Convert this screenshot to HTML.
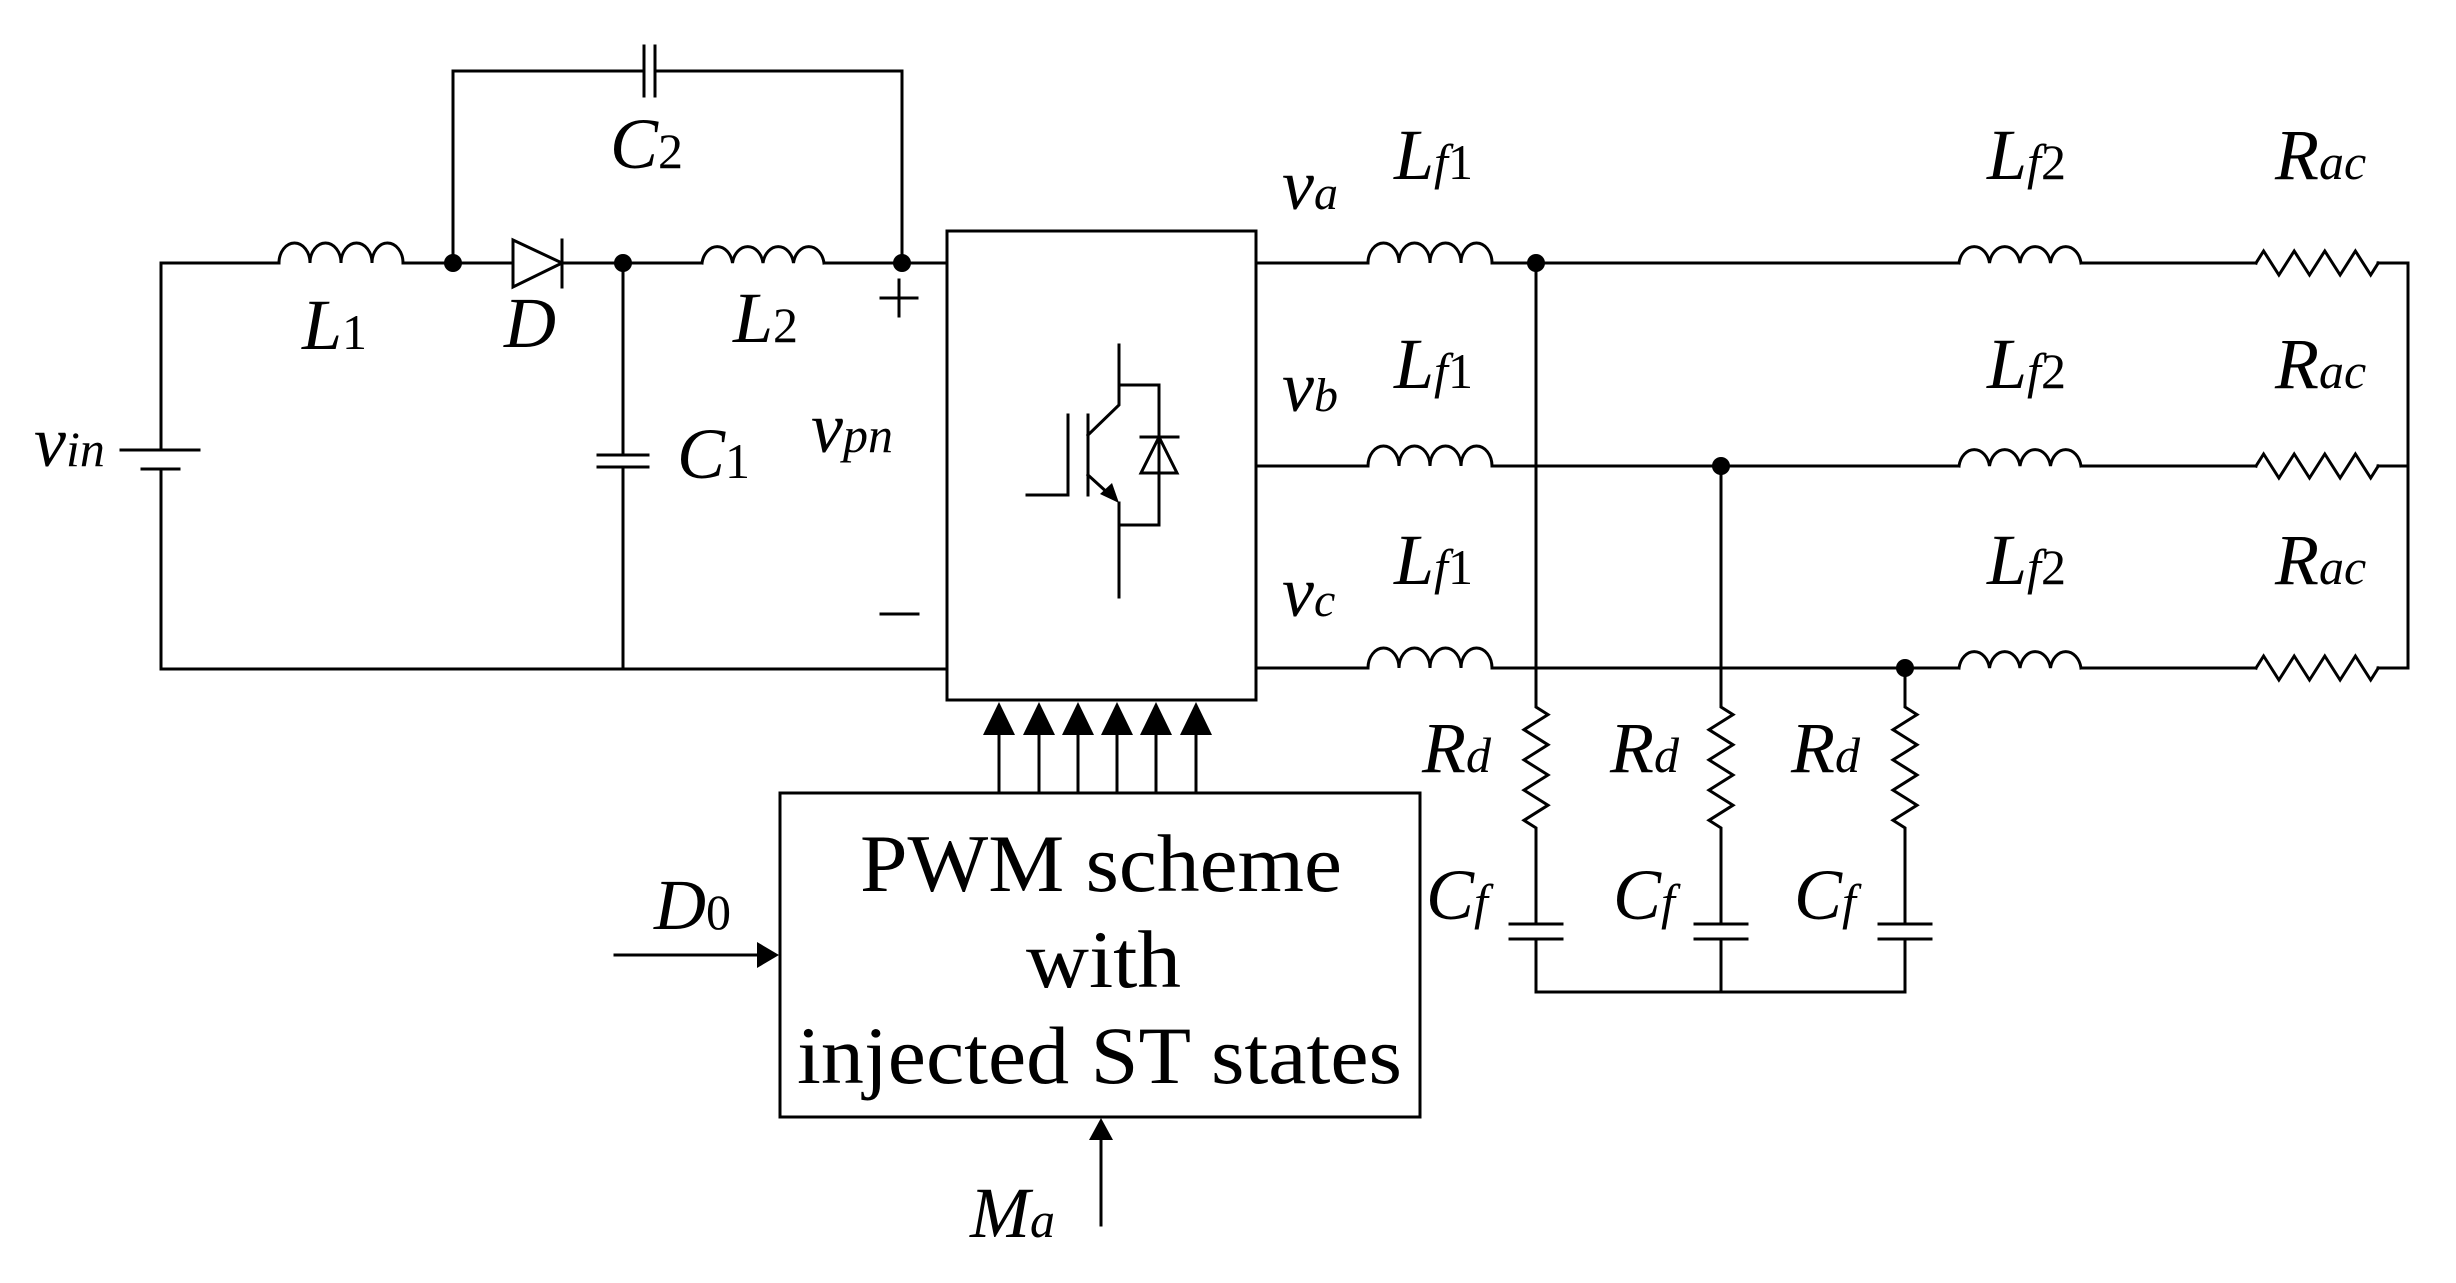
<!DOCTYPE html>
<html><head><meta charset="utf-8"><style>
html,body{margin:0;padding:0;background:#fff;}
svg{display:block;}
text{font-family:"Liberation Serif",serif;fill:#000;}
.i{font-style:italic;}
</style></head><body>
<svg width="2456" height="1283" viewBox="0 0 2456 1283" xmlns="http://www.w3.org/2000/svg">
<g fill="none" stroke="#000" stroke-width="3" stroke-linecap="square">
<path d="M161,263 H279"/>
<path d="M279,263 a15.5,20 0 0 1 31,0 a15.5,20 0 0 1 31,0 a15.5,20 0 0 1 31,0 a15.5,20 0 0 1 31,0"/>
<path d="M403,263 H513"/>
<path d="M562,263 H702"/>
<path d="M702,263 a15.5,20 0 0 1 30.5,0 a15.5,20 0 0 1 30.5,0 a15.5,20 0 0 1 30.5,0 a15.5,20 0 0 1 30.5,0"/>
<path d="M824,263 H947"/>
<path d="M161,263 V450"/>
<path d="M121,450 H199"/>
<path d="M142,469 H179"/>
<path d="M161,469 V669 H947"/>
<path d="M623,263 V455"/>
<path d="M598,455 H648 M598,467 H648"/>
<path d="M623,467 V669"/>
<path d="M453,263 V71 H644 M655,71 H902 V263"/>
<path d="M644,46 V96 M655,46 V96"/>
<path d="M513,240 L562,263 L513,287 Z" stroke-linejoin="miter"/>
<path d="M562,240 V287"/>
<path d="M899,280 V316 M881,298 H917"/>
<path d="M881,614 H918"/>
<rect x="947" y="231" width="309" height="469"/>
<path d="M1119,345 V405 L1088,435"/>
<path d="M1119,385 H1159 V525 H1119"/>
<path d="M1088,415 V495"/>
<path d="M1068,415 V495 H1027"/>
<path d="M1088,475 L1110,495"/>
<path d="M1119,503 V597"/>
<path d="M1141,437 H1178"/>
<path d="M1159,437 L1141,473 H1177 Z"/>
<path d="M1256,263 H1368 M1256,466 H1368 M1256,668 H1368"/>
<path d="M1368,263 a15.5,20 0 0 1 31,0 a15.5,20 0 0 1 31,0 a15.5,20 0 0 1 31,0 a15.5,20 0 0 1 31,0"/>
<path d="M1368,466 a15.5,20 0 0 1 31,0 a15.5,20 0 0 1 31,0 a15.5,20 0 0 1 31,0 a15.5,20 0 0 1 31,0"/>
<path d="M1368,668 a15.5,20 0 0 1 31,0 a15.5,20 0 0 1 31,0 a15.5,20 0 0 1 31,0 a15.5,20 0 0 1 31,0"/>
<path d="M1492,263 H1959 M1492,466 H1959 M1492,668 H1959"/>
<path d="M1959,263 a15.5,20 0 0 1 30.5,0 a15.5,20 0 0 1 30.5,0 a15.5,20 0 0 1 30.5,0 a15.5,20 0 0 1 30.5,0"/>
<path d="M1959,466 a15.5,20 0 0 1 30.5,0 a15.5,20 0 0 1 30.5,0 a15.5,20 0 0 1 30.5,0 a15.5,20 0 0 1 30.5,0"/>
<path d="M1959,668 a15.5,20 0 0 1 30.5,0 a15.5,20 0 0 1 30.5,0 a15.5,20 0 0 1 30.5,0 a15.5,20 0 0 1 30.5,0"/>
<path d="M2081,263 H2256 M2081,466 H2256 M2081,668 H2256"/>
<path d="M2256,263 l7.6,-12 l15.3,24 l15.3,-24 l15.3,24 l15.3,-24 l15.3,24 l15.3,-24 l15.3,24 l7.6,-12"/>
<path d="M2256,466 l7.6,-12 l15.3,24 l15.3,-24 l15.3,24 l15.3,-24 l15.3,24 l15.3,-24 l15.3,24 l7.6,-12"/>
<path d="M2256,668 l7.6,-12 l15.3,24 l15.3,-24 l15.3,24 l15.3,-24 l15.3,24 l15.3,-24 l15.3,24 l7.6,-12"/>
<path d="M2378,263 H2408 V668 H2378 M2378,466 H2408"/>
<path d="M1536,263 V707 l12,7.6 l-24,15.1 l24,15.1 l-24,15.1 l24,15.1 l-24,15.1 l24,15.1 l-24,15.1 l12,7.6 V924 M1510,924 H1562 M1510,939 H1562 M1536,939 V992"/>
<path d="M1721,466 V707 l12,7.6 l-24,15.1 l24,15.1 l-24,15.1 l24,15.1 l-24,15.1 l24,15.1 l-24,15.1 l12,7.6 V924 M1695,924 H1747 M1695,939 H1747 M1721,939 V992"/>
<path d="M1905,668 V707 l12,7.6 l-24,15.1 l24,15.1 l-24,15.1 l24,15.1 l-24,15.1 l24,15.1 l-24,15.1 l12,7.6 V924 M1879,924 H1931 M1879,939 H1931 M1905,939 V992"/>
<path d="M1536,992 H1905"/>
<rect x="780" y="793" width="640" height="324"/>
<path d="M999,735 V793 M1039,735 V793 M1078,735 V793 M1117,735 V793 M1156,735 V793 M1196,735 V793"/>
<path d="M615,955 H760"/>
<path d="M1101,1225 V1135"/>
</g>
<g fill="#000" stroke="none">
<circle cx="453" cy="263" r="9"/><circle cx="623" cy="263" r="9"/><circle cx="902" cy="263" r="9"/>
<circle cx="1536" cy="263" r="9"/><circle cx="1721" cy="466" r="9"/><circle cx="1905" cy="668" r="9"/>
<path d="M1119,503 L1100,494 L1112,483 Z"/>
<path d="M999,702 L983,735 H1015 Z"/><path d="M1039,702 L1023,735 H1055 Z"/><path d="M1078,702 L1062,735 H1094 Z"/>
<path d="M1117,702 L1101,735 H1133 Z"/><path d="M1156,702 L1140,735 H1172 Z"/><path d="M1196,702 L1180,735 H1212 Z"/>
<path d="M779,955 L757,942 V968 Z"/>
<path d="M1101,1118 L1089,1140 H1113 Z"/>
</g>
<g font-size="72">
<text x="610" y="168" class="i">C<tspan font-style="normal" font-size="50">2</tspan></text>
<text x="302" y="349" class="i">L<tspan font-style="normal" font-size="50">1</tspan></text>
<text x="504" y="347" class="i">D</text>
<text x="733" y="342" class="i">L<tspan font-style="normal" font-size="50">2</tspan></text>
<text x="34" y="466" class="i">v<tspan font-size="50">in</tspan></text>
<text x="677" y="478" class="i">C<tspan font-style="normal" font-size="50">1</tspan></text>
<text x="811" y="452" class="i">v<tspan font-size="50">pn</tspan></text>
<text x="1282" y="209" class="i">v<tspan font-size="48">a</tspan></text>
<text x="1282" y="411" class="i">v<tspan font-size="48">b</tspan></text>
<text x="1282" y="616" class="i">v<tspan font-size="48">c</tspan></text>
<text x="1394" y="179" class="i">L<tspan font-size="50">f</tspan><tspan font-style="normal" font-size="50">1</tspan></text>
<text x="1394" y="388" class="i">L<tspan font-size="50">f</tspan><tspan font-style="normal" font-size="50">1</tspan></text>
<text x="1394" y="584" class="i">L<tspan font-size="50">f</tspan><tspan font-style="normal" font-size="50">1</tspan></text>
<text x="1987" y="179" class="i">L<tspan font-size="50">f</tspan><tspan font-style="normal" font-size="50">2</tspan></text>
<text x="1987" y="388" class="i">L<tspan font-size="50">f</tspan><tspan font-style="normal" font-size="50">2</tspan></text>
<text x="1987" y="584" class="i">L<tspan font-size="50">f</tspan><tspan font-style="normal" font-size="50">2</tspan></text>
<text x="2275" y="179" class="i">R<tspan font-size="50">ac</tspan></text>
<text x="2275" y="388" class="i">R<tspan font-size="50">ac</tspan></text>
<text x="2275" y="584" class="i">R<tspan font-size="50">ac</tspan></text>
<text x="1422" y="772" class="i">R<tspan font-size="50">d</tspan></text>
<text x="1610" y="772" class="i">R<tspan font-size="50">d</tspan></text>
<text x="1791" y="772" class="i">R<tspan font-size="50">d</tspan></text>
<text x="1426" y="919" class="i">C<tspan font-size="50">f</tspan></text>
<text x="1613" y="919" class="i">C<tspan font-size="50">f</tspan></text>
<text x="1794" y="919" class="i">C<tspan font-size="50">f</tspan></text>
<text x="654" y="929" class="i">D<tspan font-style="normal" font-size="50">0</tspan></text>
<text x="970" y="1237" class="i">M<tspan font-size="50">a</tspan></text>
</g>
<g font-size="82">
<text x="860" y="891" textLength="482" lengthAdjust="spacingAndGlyphs">PWM scheme</text>
<text x="1026" y="987" textLength="155" lengthAdjust="spacingAndGlyphs">with</text>
<text x="797" y="1083" textLength="605" lengthAdjust="spacingAndGlyphs">injected ST states</text>
</g>
</svg>
</body></html>
